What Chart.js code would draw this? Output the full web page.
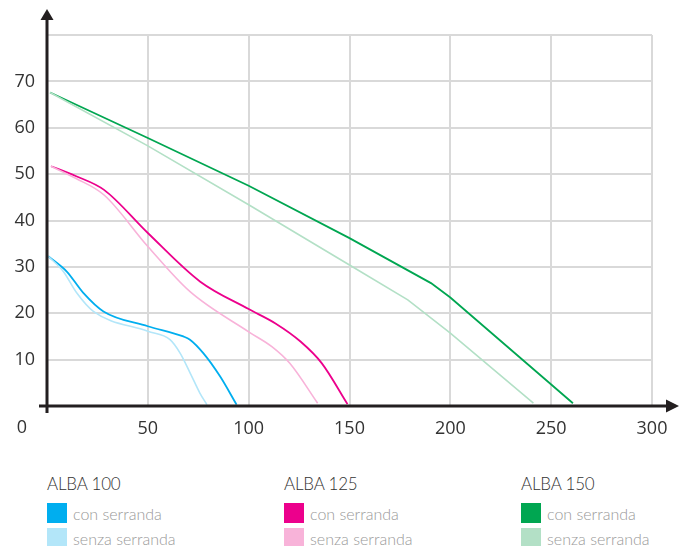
<!DOCTYPE html>
<html>
<head>
<meta charset="utf-8">
<script src="https://cdn.jsdelivr.net/npm/chart.js@4"></script>
<style>
  body { margin: 0; background: #fff; width: 684px; height: 546px; position: relative; overflow: hidden; }
  #wrap { position: absolute; left: 0; top: 0; width: 684px; height: 450px; }
  .legend { position: absolute; top: 473px; font-family: "Lato", sans-serif; }
  .legend h4 { margin: 0 0 8px 0; font-weight: 300; font-size: 17px; color: #333; letter-spacing: -0.2px; }
  .legend .row { display: flex; align-items: center; height: 22px; margin-bottom: 3px; }
  .legend .sw { width: 20px; height: 20px; margin-right: 6px; }
  .legend span { font-size: 16px; color: #999; font-weight: 300; }
</style>
</head>
<body>
<div id="wrap"><canvas id="chart"></canvas></div>
<div id="legend"></div>
<script>
// x = portata, y = pressione
const xTicks = [0, 50, 100, 150, 200, 250, 300];
const yTicks = [0, 10, 20, 30, 40, 50, 60, 70, 80];

const groups = ["ALBA 100", "ALBA 125", "ALBA 150"];
const rowLabels = ["con serranda", "senza serranda"];

const alba100ConX = [0.6, 9.8, 18, 28, 50, 67.6, 70.9, 77.5, 85.8, 94];
const alba100ConY = [32.3, 29.0, 24.4, 20.4, 17.2, 15.0, 14.3, 11.4, 6.4, 0.3];
const alba100SenzaX = [0.6, 8.1, 14.7, 23, 50, 61, 66, 71, 75.8, 79.3];
const alba100SenzaY = [32.3, 29.0, 24.4, 20.4, 16.1, 14.3, 11.4, 7.1, 2.8, 0.3];

const alba125ConX = [2, 14.2, 28.3, 50, 76, 100, 113.3, 125.7, 136.3, 149];
const alba125ConY = [51.7, 49.6, 46.6, 37.3, 26.8, 20.9, 17.8, 13.9, 9.2, 0.4];
const alba125SenzaX = [2, 14.2, 28.3, 50, 70.8, 100, 111.5, 120.4, 134.2];
const alba125SenzaY = [51.7, 49.1, 45.5, 34.4, 24.7, 16.0, 12.8, 9.2, 0.6];

const alba150ConX = [1.5, 50, 100, 150, 190.4, 200, 260.8];
const alba150ConY = [67.6, 57.8, 47.5, 36.2, 26.5, 23.4, 0.6];
const alba150SenzaX = [1.5, 50, 100, 150, 178.9, 200, 241.2];
const alba150SenzaY = [67.6, 56.1, 43.4, 30.4, 22.9, 15.7, 0.6];

const darkColors = ["#00aeef", "#ec008c", "#00a651"];
const lightColors = ["#b3e6f9", "#f8b3d9", "#b3e0c6"];

function pts(xs, ys) { return xs.map((x, i) => ({ x: x, y: ys[i] })); }

const series = [
  [pts(alba100ConX, alba100ConY), pts(alba100SenzaX, alba100SenzaY)],
  [pts(alba125ConX, alba125ConY), pts(alba125SenzaX, alba125SenzaY)],
  [pts(alba150ConX, alba150ConY), pts(alba150SenzaX, alba150SenzaY)]
];

let datasets = [];
series.forEach((pair, g) => {
  // light first so the dark line is on top
  datasets.push({
    label: groups[g] + " " + rowLabels[1],
    data: pair[1],
    borderColor: lightColors[g],
    borderWidth: 1.6,
    pointRadius: 0,
    showLine: true,
    cubicInterpolationMode: g == 2 ? "default" : "monotone",
    tension: 0
  });
  datasets.push({
    label: groups[g] + " " + rowLabels[0],
    data: pair[0],
    borderColor: darkColors[g],
    borderWidth: 1.8,
    pointRadius: 0,
    showLine: true,
    cubicInterpolationMode: g == 2 ? "default" : "monotone",
    tension: 0
  });
});

// axes with arrows + the lone "0" at the origin
const arrowAxes = {
  id: "arrowAxes",
  afterDraw(chart) {
    const ctx = chart.ctx;
    const xs = chart.scales.x, ys = chart.scales.y;
    const ox = xs.getPixelForValue(0), oy = ys.getPixelForValue(0);
    ctx.save();
    ctx.strokeStyle = "#231f20";
    ctx.fillStyle = "#231f20";
    ctx.lineWidth = 3;
    ctx.beginPath();
    ctx.moveTo(ox - 8, oy);
    ctx.lineTo(668, oy);
    ctx.moveTo(ox, oy + 7);
    ctx.lineTo(ox, 19);
    ctx.stroke();
    ctx.beginPath();
    ctx.moveTo(679, oy);
    ctx.lineTo(666, oy - 6.5);
    ctx.lineTo(666, oy + 6.5);
    ctx.closePath();
    ctx.fill();
    ctx.beginPath();
    ctx.moveTo(ox, 9);
    ctx.lineTo(ox - 6.5, 20);
    ctx.lineTo(ox + 6.5, 20);
    ctx.closePath();
    ctx.fill();
    ctx.font = "18px 'Open Sans'";
    ctx.fillStyle = "#333";
    ctx.textAlign = "center";
    ctx.textBaseline = "middle";
    ctx.fillText("0", 22, 428);
    ctx.restore();
  }
};

new Chart(document.getElementById("chart"), {
  type: "scatter",
  data: { datasets: datasets },
  options: {
    responsive: true,
    maintainAspectRatio: false,
    animation: false,
    layout: { padding: { top: 35, right: 32, left: 0, bottom: 0 } },
    plugins: { legend: { display: false }, tooltip: { enabled: false } },
    scales: {
      x: {
        type: "linear",
        min: 0, max: 300,
        afterBuildTicks: (s) => { s.ticks = xTicks.map(v => ({ value: v })); },
        afterFit: (s) => { s.height = 44; },
        grid: { color: "#d9d9d9", lineWidth: 2, drawTicks: false },
        border: { display: false },
        ticks: {
          padding: 12,
          color: "#333",
          font: { family: "Open Sans", size: 18 },
          maxRotation: 0,
          callback: (v) => v === 0 ? "" : v
        }
      },
      y: {
        type: "linear",
        min: 0, max: 80,
        afterBuildTicks: (s) => { s.ticks = yTicks.map(v => ({ value: v })); },
        afterFit: (s) => { s.width = 47; },
        grid: { color: "#d9d9d9", lineWidth: 2, drawTicks: false },
        border: { display: false },
        ticks: {
          padding: 12,
          color: "#333",
          font: { family: "Open Sans", size: 18 },
          callback: (v) => (v === 0 || v === 80) ? "" : v
        }
      }
    }
  },
  plugins: [arrowAxes]
});

// legend built from the same arrays
const legendLeft = [47, 284, 521];
let html = "";
groups.forEach((g, i) => {
  html += `<div class="legend" style="left:${legendLeft[i]}px">
    <h4>${g}</h4>
    <div class="row"><div class="sw" style="background:${darkColors[i]}"></div><span>${rowLabels[0]}</span></div>
    <div class="row"><div class="sw" style="background:${lightColors[i]}"></div><span>${rowLabels[1]}</span></div>
  </div>`;
});
document.getElementById("legend").innerHTML = html;
</script>
</body>
</html>
